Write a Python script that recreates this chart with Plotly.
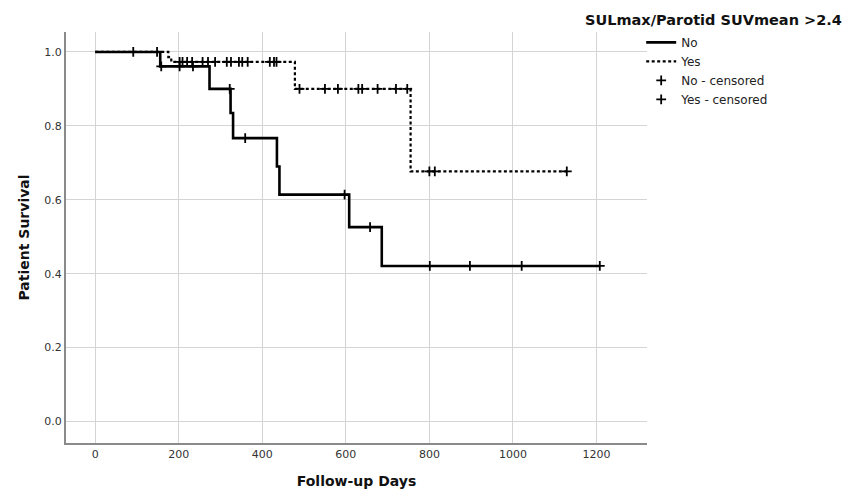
import plotly.graph_objects as go

# Kaplan-Meier step data (days, survival)
no_days = [0, 155.6, 273.6, 324, 330, 435, 441, 608, 686, 1208]
no_surv = [1.0, 0.961, 0.900, 0.835, 0.767, 0.690, 0.614, 0.526, 0.421, 0.421]

yes_days = [0, 175, 182, 478, 755, 1129]
yes_surv = [1.0, 0.986, 0.973, 0.900, 0.677, 0.677]

# censored observations
no_cens_days = [91, 148, 158, 202, 234, 322, 359, 597, 658, 801, 897, 1021, 1208]
no_cens_surv = [1.0, 1.0, 0.961, 0.961, 0.961, 0.900, 0.767, 0.614, 0.526, 0.421, 0.421, 0.421, 0.421]

yes_cens_days = [202, 209, 220, 232, 257, 270, 287, 315, 325, 344, 352, 365, 418, 428, 434,
                 489, 550, 581, 630, 639, 676, 720, 747, 800, 813, 1129]
yes_cens_surv = [0.973] * 15 + [0.900] * 8 + [0.677] * 3

x_ticks = [0, 200, 400, 600, 800, 1000, 1200]
y_ticks = [0.0, 0.2, 0.4, 0.6, 0.8, 1.0]

FONT = "DejaVu Sans"

fig = go.Figure()
fig.add_trace(go.Scatter(x=no_days, y=no_surv, mode="lines", name="No",
                         line=dict(shape="hv", color="black", width=2.6)))
fig.add_trace(go.Scatter(x=yes_days, y=yes_surv, mode="lines", name="Yes",
                         line=dict(shape="hv", color="black", width=2.2, dash="3px,2.5px")))
fig.add_trace(go.Scatter(x=no_cens_days, y=no_cens_surv, mode="markers", name="No - censored",
                         marker=dict(symbol="cross-thin", size=7, color="black",
                                     line=dict(color="black", width=1.8))))
fig.add_trace(go.Scatter(x=yes_cens_days, y=yes_cens_surv, mode="markers", name="Yes - censored",
                         marker=dict(symbol="cross-thin", size=7, color="black",
                                     line=dict(color="black", width=1.8))))

# page body has an 8px margin, so the figure is shrunk and margins shifted accordingly
fig.update_layout(
    width=848, height=485,
    margin=dict(l=58, r=209, t=24, b=50, autoexpand=False),
    paper_bgcolor="white", plot_bgcolor="white",
    font=dict(family=FONT, color="#222"),
    showlegend=True,
    legend=dict(x=0.99, y=1.01, xanchor="left", yanchor="top",
                font=dict(family=FONT, size=12, color="#222"),
                itemwidth=30, bgcolor="rgba(0,0,0,0)", tracegroupgap=0),
    annotations=[dict(text="<b>SULmax/Parotid SUVmean &gt;2.4</b>", xref="paper", yref="paper",
                      x=(585 - 66 - 9) / 573, y=1.029, xanchor="left", yanchor="middle", showarrow=False,
                      font=dict(family=FONT, size=14.5, color="#111"))],
)
fig.update_xaxes(range=[-70, 1321], tickvals=x_ticks, ticktext=[str(v) for v in x_ticks],
                 showgrid=True, gridcolor="#d4d4d4", gridwidth=1, zeroline=False,
                 showline=True, linecolor="#8a8a8a", linewidth=2, ticks="", automargin=False,
                 tickfont=dict(family=FONT, size=11, color="#333"),
                 title=dict(text="<b>Follow-up Days</b>", font=dict(family=FONT, size=14, color="#111"),
                            standoff=16))
fig.update_yaxes(range=[-0.058, 1.054], tickvals=y_ticks, ticktext=[f"{v:.1f}" for v in y_ticks],
                 showgrid=True, gridcolor="#d4d4d4", gridwidth=1, zeroline=False,
                 showline=True, linecolor="#8a8a8a", linewidth=2, ticks="", automargin=False,
                 tickfont=dict(family=FONT, size=11, color="#333"),
                 title=dict(text="<b>Patient Survival</b>", font=dict(family=FONT, size=14, color="#111"),
                            standoff=11))

fig.write_html("out.html")
